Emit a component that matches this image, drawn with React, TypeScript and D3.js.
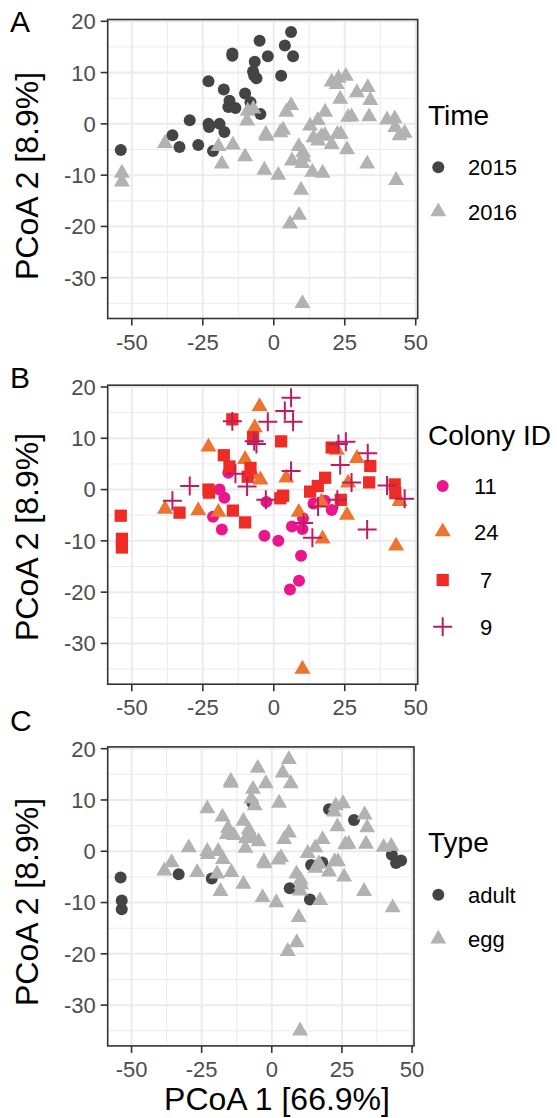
import React from 'react';
import * as d3 from 'd3';

// PCoA axis scores, one entry per sample
const pc1 = [
  -53.9, -53.5, -53.5, -33.2, -21.4, -6.9, 20.4, 29.3, 14.0, 18.0, 6.4, 13.6, 42.8, 44.3, 46.1,
  6.1, -5.0, 3.9, 6.8, -14.6, -14.6, -2.1, -6.7, -7.3, -6.1, 2.6, -23.0, -17.6, -10.1, -8.2,
  -15.6, -16.0, -13.5, -4.7, -29.6, -23.0, -22.8, -19.1, -17.4, -35.7, -26.6,
  25.4, 22.8, 22.2, 33.1, 23.4, 34.0, 6.1, 4.4, -7.2, -9.2, 18.1, -9.4, 26.2, 27.4, 33.6,
  39.9, 42.6, 15.5, 12.8, 3.3, 2.3, -2.6, -2.8, 16.8, 15.6, 22.4, 23.6, 20.4, 8.8, 25.8,
  -14.4, -19.5, -38.3, -10.1, 10.3, 10.5, 10.1, -18.3, -3.3, 1.6, 17.2, 32.9, 43.1, 9.6,
  8.9, 5.7, 10.1,
];
const pc2 = [
  -5.1, -9.6, -11.3, -4.5, -5.3, 9.4, 8.2, 6.1, -2.7, -2.2, -7.2, -9.4, -0.7, -2.3, -1.8,
  17.9, 16.2, 15.3, 13.2, 13.7, 13.3, 13.2, 12.1, 10.2, 8.9, 9.4, 8.3, 6.7, 5.9, 4.2,
  4.5, 3.3, 3.1, 1.9, 0.7, 0.0, -0.6, 0.0, -1.6, -2.2, -4.1,
  9.3, 8.9, 7.7, 7.1, 4.8, 4.6, 3.6, 2.3, 2.9, 2.5, 2.3, 0.6, 1.3, 1.4, 1.4,
  0.8, 1.0, 0.7, -0.4, -1.2, -1.7, -2.4, -2.0, -2.4, -3.3, -2.0, -2.0, -4.0, -4.4, -5.0,
  -4.1, -4.4, -3.8, -6.4, -5.6, -6.5, -7.7, -7.8, -9.0, -10.0, -9.6, -7.8, -11.0, -12.9,
  -17.8, -19.5, -35.0,
];
const year = [
  '2015', '2016', '2016', '2015', '2015', '2015', '2016', '2016', '2016', '2016', '2016', '2016', '2016', '2016', '2016',
  '2015', '2015', '2015', '2015', '2015', '2015', '2015', '2015', '2015', '2015', '2015', '2015', '2015', '2015', '2015',
  '2015', '2015', '2015', '2015', '2015', '2015', '2015', '2015', '2015', '2015', '2015',
  '2016', '2016', '2016', '2016', '2016', '2016', '2016', '2016', '2016', '2016', '2016', '2016', '2016', '2016', '2016',
  '2016', '2016', '2016', '2016', '2016', '2016', '2016', '2016', '2016', '2016', '2016', '2016', '2016', '2016', '2016',
  '2016', '2016', '2016', '2016', '2016', '2016', '2016', '2016', '2016', '2016', '2016', '2016', '2016', '2016',
  '2016', '2016', '2016',
];
const colony = [
  ' 7', ' 7', ' 7', ' 7', '11', ' 9', ' 7', '24', '11', '11', '11', ' 9', ' 7', '24', ' 9',
  ' 9', '24', ' 9', ' 9', ' 7', ' 9', ' 9', '24', ' 7', ' 9', ' 7', '24', ' 7', '24', ' 7',
  ' 7', '11', ' 9', '24', ' 9', ' 7', ' 7', '11', '11', ' 9', '24',
  ' 9', ' 9', '24', ' 9', ' 9', ' 7', ' 9', '24', '24', ' 7', ' 7', ' 9', '24', ' 9', ' 7',
  ' 9', ' 7', ' 7', ' 7', ' 7', ' 7', '11', ' 9', '24', ' 9', ' 9', ' 7', '11', '24', '24',
  ' 7', '24', '24', ' 7', '11', ' 9', '11', '11', '11', '11', '24', ' 9', '24', '11',
  '11', '11', '24',
];
const stage = [
  'adult', 'adult', 'adult', 'adult', 'adult', 'adult', 'adult', 'adult', 'adult', 'adult', 'adult', 'adult', 'adult', 'adult', 'adult',
  ...Array(74).fill('egg'),
];

const xTicks = [-50, -25, 0, 25, 50];
const yTicks = [20, 10, 0, -10, -20, -30];
const xMinor = [-37.5, -12.5, 12.5, 37.5];
const yMinor = [15, 5, -5, -15, -25, -35];

const yearLevels = ['2015', '2016'];
const colonyLevels = ['11', '24', ' 7', ' 9'];
const stageLevels = ['adult', 'egg'];

const FONT = '"Liberation Sans", Arial, Helvetica, sans-serif';

const samples = pc1.map((x, i) => ({
  x, y: pc2[i], year: year[i], colony: colony[i], stage: stage[i],
}));

const triPath = d3.symbol().type(d3.symbolTriangle).size(111)() as string;
const sqPath = d3.symbol().type(d3.symbolSquare).size(150)() as string;
const plusPath = 'M-9.5,0H9.5M0,-9.5V9.5';

function Mark({ shape, color, x, y }: any) {
  if (shape === 'circle') return <circle cx={x} cy={y} r={6} fill={color} />;
  if (shape === 'plus')
    return <path d={plusPath} transform={`translate(${x},${y})`} fill="none" stroke={color} strokeWidth={2} />;
  const d = shape === 'triangle' ? triPath : sqPath;
  return <path d={d} transform={`translate(${x},${y})`} fill={color} />;
}

function Panel({ top, right, label, labelY, field, levels, shapes, colors, title, legendY, keyX, textX, xTitle, order, yTitleY }: any) {
  const left = 107.7;
  const bottom = top + 299;
  const x = d3.scaleLinear().domain([-58.5, 50.7]).range([left, right]);
  const y = d3.scaleLinear().domain([-37.95, 20.35]).range([bottom, top]);
  const pts = order ? [...samples].sort((a: any, b: any) => order.indexOf(a[field]) - order.indexOf(b[field])) : samples;
  return (
    <g>
      <text x={10} y={labelY} fontSize={30} fontFamily={FONT} fill="#000">{label}</text>
      <rect x={left} y={top} width={right - left} height={bottom - top} fill="#fff" />
      {xMinor.map(t => <line key={'xm' + t} x1={x(t)} x2={x(t)} y1={top} y2={bottom} stroke="#EBEBEB" strokeWidth={1} />)}
      {yMinor.map(t => <line key={'ym' + t} y1={y(t)} y2={y(t)} x1={left} x2={right} stroke="#EBEBEB" strokeWidth={1} />)}
      {xTicks.map(t => <line key={'xg' + t} x1={x(t)} x2={x(t)} y1={top} y2={bottom} stroke="#EBEBEB" strokeWidth={2} />)}
      {yTicks.map(t => <line key={'yg' + t} y1={y(t)} y2={y(t)} x1={left} x2={right} stroke="#EBEBEB" strokeWidth={2} />)}
      {pts.map((d: any, i: number) => (
        <Mark key={i} shape={shapes[levels.indexOf(d[field])]} color={colors[levels.indexOf(d[field])]} x={x(d.x)} y={y(d.y)} />
      ))}
      <rect x={left} y={top} width={right - left} height={bottom - top} fill="none" stroke="#333" strokeWidth={1.6} />
      {xTicks.map(t => (
        <g key={'xt' + t}>
          <line x1={x(t)} x2={x(t)} y1={bottom} y2={bottom + 7} stroke="#333" strokeWidth={1.6} />
          <text x={x(t)} y={bottom + 31} textAnchor="middle" fontSize={22} fontFamily={FONT} fill="#4D4D4D">{t}</text>
        </g>
      ))}
      {yTicks.map(t => (
        <g key={'yt' + t}>
          <line x1={left - 7} x2={left} y1={y(t)} y2={y(t)} stroke="#333" strokeWidth={1.6} />
          <text x={left - 12} y={y(t)} dy="0.36em" textAnchor="end" fontSize={22} fontFamily={FONT} fill="#4D4D4D">{t}</text>
        </g>
      ))}
      <text transform={`translate(38,${yTitleY}) rotate(-90)`} textAnchor="middle" fontSize={32} fontFamily={FONT} fill="#000">
        PCoA 2 [8.9%]
      </text>
      {xTitle && (
        <text x={277} y={bottom + 64} textAnchor="middle" fontSize={32} fontFamily={FONT} fill="#000">
          {xTitle}
        </text>
      )}
      <text x={428} y={legendY[0]} fontSize={28} fontFamily={FONT} fill="#000">{title}</text>
      {levels.map((lv: string, i: number) => (
        <g key={'lg' + lv}>
          <Mark shape={shapes[i]} color={colors[i]} x={keyX} y={legendY[i + 1]} />
          <text x={textX} y={legendY[i + 1]} dy="0.36em" fontSize={22} fontFamily={FONT} fill="#000" style={{ whiteSpace: 'pre' }}>{lv}</text>
        </g>
      ))}
    </g>
  );
}

export default function App() {
  return (
    <svg width={557} height={1118} style={{ position: 'absolute', left: 0, top: 0, background: '#fff' }}>
      <Panel top={19.5} right={417.7} label="A" labelY={32} field="year" levels={yearLevels}
        shapes={['circle', 'triangle']} colors={['#444444', '#B2B2B2']} title="Time"
        legendY={[125, 167.3, 211.7]} keyX={438.3} textX={468} order={yearLevels} yTitleY={176} />
      <Panel top={385.2} right={417.7} label="B" labelY={388} field="colony" levels={colonyLevels}
        shapes={['circle', 'triangle', 'square', 'plus']} colors={['#EC168C', '#EC7330', '#EE2B25', '#BC1D62']}
        title="Colony ID" legendY={[445, 486, 531.7, 580, 626.7]} keyX={442.7} textX={474}
        order={['11', '24', ' 7', ' 9']} yTitleY={537} />
      <Panel top={746.9} right={414} label="C" labelY={731} field="stage" levels={stageLevels}
        shapes={['circle', 'triangle']} colors={['#444444', '#B2B2B2']} title="Type"
        legendY={[852.4, 894.7, 939]} keyX={438.3} textX={468} xTitle="PCoA 1 [66.9%]" order={stageLevels} yTitleY={902} />
    </svg>
  );
}
